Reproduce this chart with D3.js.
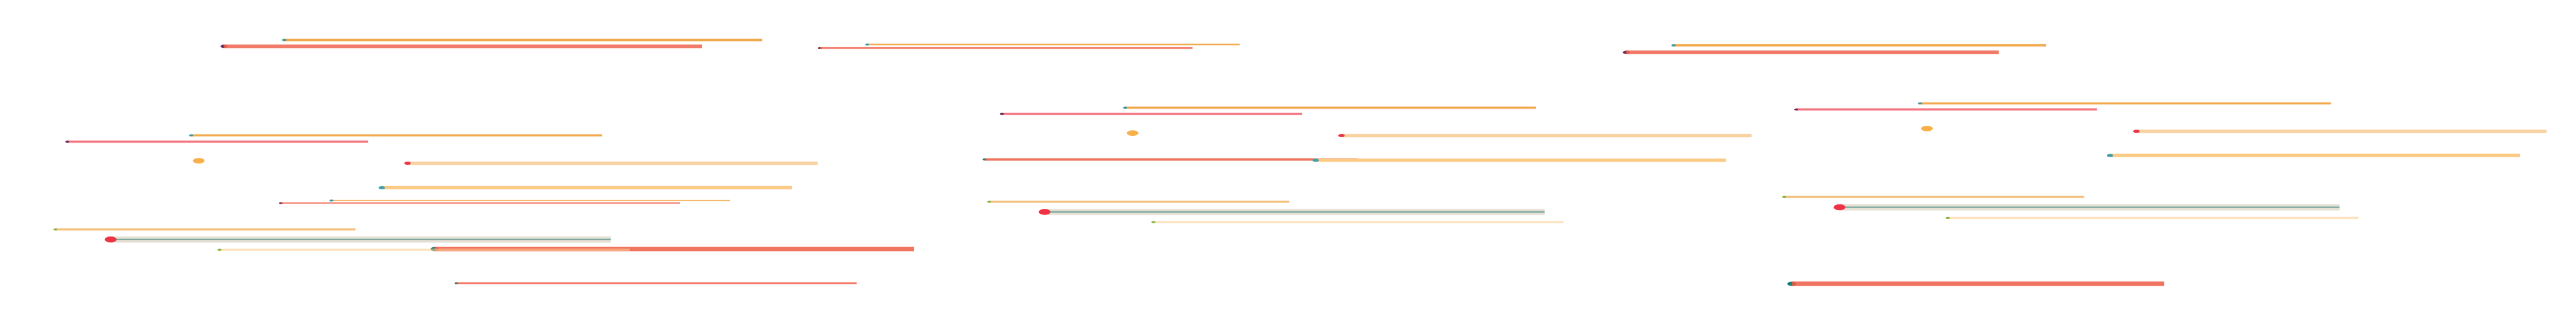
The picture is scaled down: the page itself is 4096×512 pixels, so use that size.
<!DOCTYPE html>
<html><head><meta charset="utf-8">
<script src="https://cdn.jsdelivr.net/npm/d3@7"></script>
<style>html,body{margin:0;padding:0;background:#fff;overflow:hidden}svg{display:block}</style>
</head><body><svg id="chart"></svg>
<script>
// ---- data (x in value units 0..1024, row in units 0..128, weight = stroke weight) ----
const segKind = [
  "amber","salmon","amber","rose","peach","apricot","amber","salmon","sand","slate","coral","cream","coralThin",
  "amber","salmon","amber","rose","peach","coralThin","apricot","sand","slate","cream",
  "amber","salmon","amber","rose","peach","apricot","sand","slate","cream","coral"
];
const segStart = [
  113, 89, 76, 26.75, 162, 151.75, 131.75, 111.75, 22, 44, 172.75, 87.25, 181.5,
  344.75, 326, 447.25, 398.25, 533.25, 391.5, 523, 393.25, 415.25, 458.5,
  665.25, 646.5, 763.25, 714, 849.25, 838.75, 709.25, 731.25, 774.25, 712.25
];
const segEnd = [
  303, 279, 239.25, 146.25, 325, 314.75, 290.25, 270.25, 141.25, 242.75, 363.25, 250.25, 340.5,
  492.75, 474, 610.5, 517.5, 696.25, 539.75, 686, 512.5, 614, 621.5,
  813.25, 794.5, 926.5, 833.5, 1012.25, 1001.75, 828.5, 930, 937.5, 860.25
];
const segRow = [
  15.9, 18.4, 53.8, 56.3, 64.9, 74.6, 79.7, 80.7, 91.2, 95.2, 99, 99.3, 112.6,
  17.7, 19.1, 42.8, 45.3, 53.9, 63.4, 63.7, 80.2, 84.25, 88.3,
  18, 20.8, 41.1, 43.5, 52.2, 61.8, 78.3, 82.4, 86.6, 112.8
];
const segWeight = [
  35, 55, 30, 30, 50, 50, 13, 18, 30, 95, 65, 30, 26,
  21, 26, 30, 30, 50, 35, 50, 30, 95, 30,
  35, 55, 30, 30, 50, 50, 30, 95, 30, 70
];
const blobX = [79, 450.25, 766];
const blobRow = [63.9, 52.9, 51.1];

// ---- styles ----
const kinds = {
  amber:     {bar:"#F2A94B", dot:"#3B9AA0", barOver:false, opacity:1},
  salmon:    {bar:"#F27A68", dot:"#6E2B5E", barOver:true,  opacity:0.85},
  rose:      {bar:"#F47480", dot:"#6E2B5E", barOver:false, opacity:1},
  peach:     {bar:"#F9D2A2", dot:"#EE3344", barOver:false, opacity:1},
  apricot:   {bar:"#FDCA85", dot:"#42A0AC", barOver:false, opacity:1},
  sand:      {bar:"#F4C07C", dot:"#86B43D", barOver:false, opacity:1},
  slate:     {bar:"#E6E0D5", line:"#7AAA9C", dot:"#EE3344", barOver:false, opacity:1},
  cream:     {bar:"#FDE2BC", dot:"#86B43D", barOver:false, opacity:0.55},
  coral:     {bar:"#F07560", dot:"#137A78", barOver:true,  opacity:0.85},
  coralThin: {bar:"#F0725C", dot:"#137A78", barOver:true,  opacity:0.85}
};

const W = 4096, H = 512;
const svg = d3.select("#chart").attr("width", W).attr("height", H);
const x = d3.scaleLinear().domain([0, 1024]).range([0, W]);
const y = d3.scaleLinear().domain([0, 128]).range([0, H]);
const thick = d3.scaleLinear().domain([0, 100]).range([0, 10]);

// colour that looks like `c` when drawn at opacity a over white
function under(c, a) {
  const r = d3.rgb(c);
  const f = v => Math.max(0, Math.min(255, (v - 255 * (1 - a)) / a));
  return d3.rgb(f(r.r), f(r.g), f(r.b)).formatHex();
}

const data = segKind.map((k, i) => ({k, s: segStart[i], e: segEnd[i], r: segRow[i], w: segWeight[i]}));
const g = svg.append("g");

data.forEach(d => {
  const st = kinds[d.k];
  const h = thick(d.w);
  const cx = x(d.s), cy = y(d.r);
  const rx = Math.max(h, 3.2), ry = rx / 2;
  const drawDot = () => g.append("ellipse").attr("cx", cx).attr("cy", cy)
      .attr("rx", rx).attr("ry", ry).attr("fill", st.dot);
  const drawBar = () => {
    const a = st.opacity;
    g.append("rect").attr("x", cx).attr("y", cy - h / 2)
      .attr("width", x(d.e) - x(d.s)).attr("height", h)
      .attr("fill", under(st.bar, a)).attr("fill-opacity", a)
      .attr("stroke", st.bar).attr("stroke-opacity", 0.25).attr("stroke-width", 1.2);
    if (st.line) {
      g.append("rect").attr("x", cx).attr("y", cy - 1.15)
        .attr("width", x(d.e) - x(d.s)).attr("height", 2.3).attr("fill", st.line);
    }
  };
  if (st.barOver) { drawDot(); drawBar(); } else { drawBar(); drawDot(); }
});

g.selectAll("ellipse.blob").data(blobX).join("ellipse").attr("class", "blob")
  .attr("cx", (v) => x(v)).attr("cy", (v, i) => y(blobRow[i]))
  .attr("rx", 9.3).attr("ry", 4.4).attr("fill", "#F9B04A");
</script></body></html>
